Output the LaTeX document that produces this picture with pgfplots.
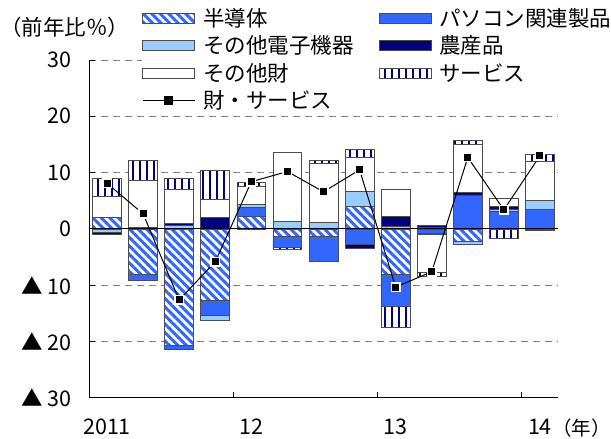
\documentclass[border=0pt]{standalone}
\usepackage{fontspec}
\setmainfont{Noto Sans CJK JP}
\usepackage{pgfplots}
\pgfplotsset{compat=1.18}
\usepackage{pgfplotstable}
\usetikzlibrary{patterns.meta}

\definecolor{hatchblue}{RGB}{51,102,255}
\definecolor{pcblue}{RGB}{51,102,255}
\definecolor{lightblue}{RGB}{153,204,255}
\definecolor{navy}{RGB}{0,0,128}
\definecolor{gridgray}{RGB}{128,128,128}

\newcommand\chartfont{\fontsize{21.5pt}{25pt}\selectfont}

% contributions by component, quarterly (2011Q1 - 2014Q1), % y/y
\pgfplotstableread{
q  semi   pc     elec   agri   other  serv   total
1  2.1    0      -0.6   -0.4   3.7    3.2    8.1
2  -8.1   -1.1   0      0.3    8.3    3.5    2.7
3  -20.6  -0.7   0.6    0.4    6.1    1.9    -12.6
4  -12.6  -2.8   -0.9   2.05   3.2    5.1    -5.8
5  2.3    1.5    0.5    0      3.3    0.7    8.4
6  -1.4   -1.85  1.3    0      12.3   -0.35  10.2
7  -1.35  -4.35  1.1    0      10.5   0.5    6.6
8  4.05   -2.8   2.55   -0.7   6.05   1.55   10.5
9  -8.1   -5.7   0.5    1.7    4.85   -3.7   -10.3
10 0.3    -0.7   -0.3   0.4    -6.7   -0.8   -7.6
11 -2.2   6.05   -0.55  0.45   8.55   0.6    12.7
12 0      3.1    0.4    0.5    1.35   -1.75  3.4
13 0      3.5    1.55   -0.3   6.9    1.25   13.0
}\data

\pgfplotsset{
  segment/.style={draw=black!70, line width=0.8pt},
  semi/.style={segment, fill=white,
    postaction={pattern color=hatchblue, pattern={Lines[angle=-45,distance=6pt,line width=3pt]}}},
  pc/.style={segment, fill=pcblue},
  elec/.style={segment, fill=lightblue},
  agri/.style={segment, fill=navy},
  other/.style={segment, fill=white},
  serv/.style={segment, fill=white,
    postaction={pattern color=navy, pattern={Lines[angle=90,distance=7pt,line width=2pt]}}},
  box legend/.style={legend image code/.code={\draw[##1] (0pt,-5pt) rectangle (52pt,5pt);}},
  common/.style={at={(89pt,41pt)}, anchor=south west, scale only axis,
    width=469pt, height=338pt, xmin=0.5, xmax=13.5, ymin=-30, ymax=30},
}

\begin{document}
\begin{tikzpicture}[font=\chartfont]
\path[use as bounding box] (0,0) rectangle (611pt,439pt);

% negative parts, grid and axes
\begin{axis}[common, ybar stacked, bar width=0.8,
  axis x line*=bottom, axis y line*=left,
  axis line style={black, line width=1pt},
  ytick={-30,-20,...,30},
  yticklabels={▲ 30,▲ 20,▲ 10,0,10,20,30},
  ymajorgrids,
  major grid style={gridgray, dash pattern=on 7pt off 5pt, line width=1pt},
  xtick={4.5,8.5,12.5}, xticklabels={},
  extra x ticks={1,5,9,13}, extra x tick labels={2011,12,13,14},
  extra x tick style={major tick length=0pt},
  tick align=inside, major tick length=6pt,
  tick style={black, line width=1pt},
  tick label style={font=\chartfont},
  yticklabel style={xshift=-14pt},
  xticklabel style={yshift=-21pt, inner sep=0pt},
]
\addplot[semi]  table[x=q, y expr={min(\thisrow{semi},0)}]  {\data};
\addplot[pc]    table[x=q, y expr={min(\thisrow{pc},0)}]    {\data};
\addplot[elec]  table[x=q, y expr={min(\thisrow{elec},0)}]  {\data};
\addplot[agri]  table[x=q, y expr={min(\thisrow{agri},0)}]  {\data};
\addplot[other] table[x=q, y expr={min(\thisrow{other},0)}] {\data};
\addplot[serv]  table[x=q, y expr={min(\thisrow{serv},0)}]  {\data};
\end{axis}

% positive parts
\begin{axis}[common, ybar stacked, bar width=0.8, hide axis]
\addplot[semi]  table[x=q, y expr={max(\thisrow{semi},0)}]  {\data};
\addplot[pc]    table[x=q, y expr={max(\thisrow{pc},0)}]    {\data};
\addplot[elec]  table[x=q, y expr={max(\thisrow{elec},0)}]  {\data};
\addplot[agri]  table[x=q, y expr={max(\thisrow{agri},0)}]  {\data};
\addplot[other] table[x=q, y expr={max(\thisrow{other},0)}] {\data};
\addplot[serv]  table[x=q, y expr={max(\thisrow{serv},0)}]  {\data};
\end{axis}

% zero line, total and legend
\begin{axis}[common, hide axis, clip=false,
  legend columns=2,
  legend cell align=left,
  legend style={at={(0,1)}, anchor=north west, xshift=53pt, yshift=54pt,
    draw=none, fill=white, font=\chartfont, inner sep=0pt,
    nodes={inner sep=2pt},
    row sep=4pt,
    /tikz/every odd column/.append style={column sep=6pt},
    /tikz/every even column/.append style={column sep=23pt}},
]
\addplot[black, line width=1pt, forget plot] coordinates {(0.5,0) (13.5,0)};
\addlegendimage{box legend, semi}
\addlegendimage{box legend, pc}
\addlegendimage{box legend, elec}
\addlegendimage{box legend, agri}
\addlegendimage{box legend, other}
\addlegendimage{box legend, serv}
\addplot[black, line width=1pt, mark=square*, mark size=4.25pt,
  mark options={fill=black, draw=white, line width=1.5pt},
  legend image code/.code={
    \draw[black, line width=1pt] (0pt,0pt) -- (52pt,0pt);
    \fill[black] (22pt,-4pt) rectangle (30pt,4pt);}]
  table[x=q, y=total] {\data};
\legend{半導体, パソコン関連製品, その他電子機器, 農産品, その他財, サービス, 財・サービス}
\node[font=\chartfont] at (rel axis cs:0,1) [xshift=-24pt, yshift=33pt] {（前年比％）};
\node[font=\fontsize{19.5pt}{23pt}\selectfont, anchor=east, inner sep=0pt]
  at (rel axis cs:1,0) [xshift=53pt, yshift=-30pt] {（年）};
\end{axis}
\end{tikzpicture}
\end{document}
